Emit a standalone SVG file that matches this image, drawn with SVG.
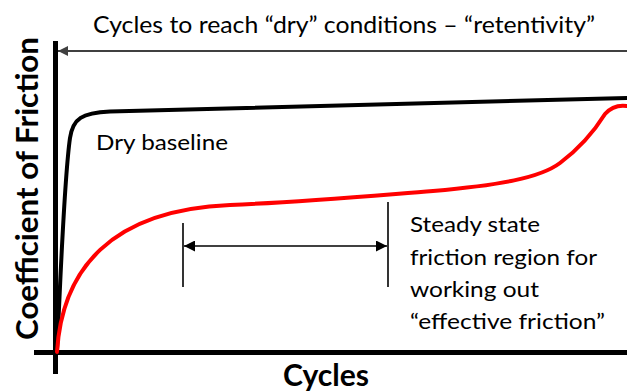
<svg xmlns="http://www.w3.org/2000/svg" width="627" height="392" viewBox="0 0 627 392">
<defs>
<style>
.t{font-family:Lato,"Liberation Sans",sans-serif;fill:#000}
.lbl{font-size:22px}
.bold{font-weight:bold;font-size:31px}
.ax{stroke:#000;stroke-width:5;fill:none}
.cur{fill:none;stroke-width:4;stroke-linecap:round;stroke-linejoin:round}
.ann{stroke:#000;stroke-width:1.6;fill:none}
</style>
<marker id="ahg" viewBox="0 0 10 10" refX="10" refY="5" markerWidth="10" markerHeight="10" markerUnits="userSpaceOnUse" orient="auto-start-reverse">
<path d="M0,0 L10,5 L0,10 Z" fill="#404040"/>
</marker>
<marker id="ahb" viewBox="0 0 10 10" refX="10" refY="5" markerWidth="11" markerHeight="11" markerUnits="userSpaceOnUse" orient="auto-start-reverse">
<path d="M0,0 L10,5 L0,10 Z" fill="#000"/>
</marker>
</defs>
<rect width="627" height="392" fill="#fff"/>
<g id="axes">
<line class="ax" x1="55.5" y1="41" x2="55.5" y2="374"/>
<line class="ax" x1="34" y1="352.5" x2="627" y2="352.5"/>
</g>
<g id="curves">
<path id="dry" class="cur" stroke="#000" d="M57,350 C61,270 64,180 70,138 C73,118 82,113 110,111.5 L627,98"/>
<path id="wet" class="cur" stroke="#ff0000" d="M57,352 C62,270 110,210 230,205 C300,202 380,195 433,191 C500,185 540,178 560,163 C580,148 595,130 605,114 C612,106 620,105 627,106"/>
</g>
<g id="connectors">
<line stroke="#404040" stroke-width="2" x1="58" y1="51" x2="637" y2="51" marker-start="url(#ahg)" marker-end="url(#ahg)"/>
<line class="ann" x1="183" y1="223" x2="183" y2="287"/>
<line class="ann" x1="388" y1="202" x2="388" y2="287"/>
<line class="ann" x1="184" y1="246" x2="387" y2="246" marker-start="url(#ahb)" marker-end="url(#ahb)"/>
</g>
<g id="title"><text class="t" x="93" y="33" font-size="24" textLength="502" lengthAdjust="spacingAndGlyphs">Cycles to reach “dry” conditions – “retentivity”</text></g>
<g id="dry-label"><text class="t lbl" x="96" y="150" textLength="132" lengthAdjust="spacingAndGlyphs">Dry baseline</text></g>
<g id="steady-label">
<text class="t lbl" x="410" y="232" textLength="130" lengthAdjust="spacingAndGlyphs">Steady state</text>
<text class="t lbl" x="410" y="264.5" textLength="187" lengthAdjust="spacingAndGlyphs">friction region for</text>
<text class="t lbl" x="410" y="297" textLength="129" lengthAdjust="spacingAndGlyphs">working out</text>
<text class="t lbl" x="410" y="329" textLength="195" lengthAdjust="spacingAndGlyphs">“effective friction”</text>
</g>
<g id="y-label"><text class="t bold" transform="translate(38,340) rotate(-90)" x="0" y="0" textLength="303" lengthAdjust="spacingAndGlyphs">Coefficient of Friction</text></g>
<g id="x-label"><text class="t bold" x="283" y="386" textLength="86" lengthAdjust="spacingAndGlyphs">Cycles</text></g>
</svg>
